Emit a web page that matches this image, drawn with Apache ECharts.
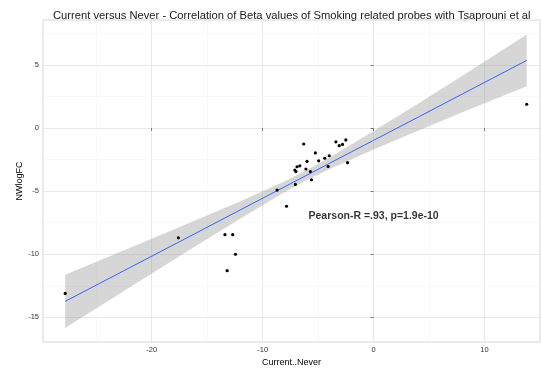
<!DOCTYPE html>
<html>
<head>
<meta charset="utf-8">
<script src="https://cdn.jsdelivr.net/npm/echarts@6/dist/echarts.min.js"></script>
<style>
  html, body { margin: 0; padding: 0; background: #fff; }
  #main { width: 542px; height: 370px; }
</style>
</head>
<body>
<div id="main"></div>
<script>
// probes: Current vs Never beta difference (x) against NWlogFC (y)
var probeX = [-27.8, -17.6, -13.4, -12.7, -12.45, -13.2, -6.3, -3.4, -2.5, -3.1,
              -2.8, -5.25, -4.0, -4.4, -6.0, -4.95, -6.65, -6.9, -7.1, -7.0,
              -6.1, -5.7, -4.1, -2.35, -7.05, -5.6, -8.7, -7.85, 13.8];
var probeY = [-13.1, -8.7, -8.45, -8.45, -10.0, -11.3, -1.27, -1.1, -0.95, -1.4,
              -1.3, -1.98, -2.2, -2.4, -2.65, -2.6, -3.0, -3.07, -3.33, -3.45,
              -3.25, -3.45, -3.05, -2.75, -4.47, -4.1, -4.92, -6.2, 1.88];

// fitted line with its confidence band
var fitX     = [-27.8, -22, -17, -12, -8, -6, -4, 0, 4, 8, 13.8];
var fitY     = [-13.73, -11.07, -8.78, -6.48, -4.65, -3.73, -2.81, -0.98, 0.85, 2.69, 5.35];
var fitLower = [-15.84, -12.64, -9.89, -7.16, -5.08, -4.13, -3.27, -1.71, -0.22, 1.25, 3.30];
var fitUpper = [-11.62, -9.50, -7.67, -5.80, -4.22, -3.33, -2.35, -0.25, 1.92, 4.13, 7.40];

var xTicks = [-20, -10, 0, 10];
var xMinor = [-25, -15, -5, 5];
var yTicks = [-15, -10, -5, 0, 5];
var yMinor = [-12.5, -7.5, -2.5, 2.5, 7.5];

var pearsonText = 'Pearson-R =.93, p=1.9e-10';
var pearsonAt = [0, -7];

var chart = echarts.init(document.getElementById('main'));

function gridLines(){
    var lines = [];
    xTicks.forEach(function(v){ lines.push({xAxis: v, lineStyle: {color: '#e8e8e8', width: 1, type: 'solid'}}); });
    xMinor.forEach(function(v){ lines.push({xAxis: v, lineStyle: {color: '#f3f3f3', width: 0.6, type: 'solid'}}); });
    yTicks.forEach(function(v){ lines.push({yAxis: v, lineStyle: {color: '#e8e8e8', width: 1, type: 'solid'}}); });
    yMinor.forEach(function(v){ lines.push({yAxis: v, lineStyle: {color: '#f3f3f3', width: 0.6, type: 'solid'}}); });
    return lines;
}

var points = probeX.map(function(x, i){ return [x, probeY[i]]; });
var fitLine = fitX.map(function(x, i){ return [x, fitY[i]]; });

var opts = {
    animation: false,
    textStyle: { fontFamily: 'Liberation Sans, Arial, sans-serif' },
    title: {
        text: 'Current versus Never - Correlation of Beta values of Smoking related probes with Tsaprouni et al',
        left: 48,
        top: 5,
        textStyle: { fontSize: 11.2, fontWeight: 'normal', color: '#1a1a1a' }
    },
    grid: {
        left: 43,
        right: 2,
        top: 20,
        bottom: 28,
        show: true,
        borderColor: '#d6d6d6',
        borderWidth: 1,
        outerBoundsMode: 'none'
    },
    xAxis: {
        type: 'value',
        min: -29.8,
        max: 15,
        name: 'Current..Never',
        nameLocation: 'middle',
        nameGap: 16,
        nameMoveOverlap: false,
        nameTextStyle: { fontSize: 9, color: '#000' },
        axisLine: { show: false },
        axisTick: { show: true, length: 3, customValues: xTicks, lineStyle: { color: '#777' } },
        axisLabel: { customValues: xTicks, fontSize: 7.5, color: '#333', margin: 4 },
        splitLine: { show: false }
    },
    yAxis: {
        type: 'value',
        min: -16.95,
        max: 8.55,
        name: 'NWlogFC',
        nameLocation: 'middle',
        nameGap: 19,
        nameMoveOverlap: false,
        nameTextStyle: { fontSize: 9, color: '#000' },
        axisLine: { show: false },
        axisTick: { show: true, length: 3, customValues: yTicks, lineStyle: { color: '#777' } },
        axisLabel: { customValues: yTicks, fontSize: 7.5, color: '#333', margin: 4 },
        splitLine: { show: false }
    },
    series: [
        {
            // background grid lines
            type: 'line',
            data: [],
            silent: true,
            z: 0,
            markLine: {
                silent: true,
                z: 0,
                symbol: ['none', 'none'],
                label: { show: false },
                animation: false,
                data: gridLines()
            }
        },
        {
            type: 'custom',
            z: 1,
            silent: true,
            data: [[fitX[0], fitLower[0]]],
            renderItem: function(params, api){
                var pts = [];
                for (var i = 0; i < fitX.length; i++) {
                    pts.push(api.coord([fitX[i], fitUpper[i]]));
                }
                for (var j = fitX.length - 1; j >= 0; j--) {
                    pts.push(api.coord([fitX[j], fitLower[j]]));
                }
                return {
                    type: 'polygon',
                    shape: { points: pts },
                    style: { fill: 'rgba(153,153,153,0.4)', stroke: 'none' }
                };
            }
        },
        {
            type: 'line',
            z: 2,
            data: fitLine,
            showSymbol: false,
            silent: true,
            lineStyle: { color: '#3366FF', width: 1 }
        },
        {
            type: 'scatter',
            z: 3,
            data: points,
            symbol: 'circle',
            symbolSize: 3.2,
            itemStyle: { color: '#000', borderWidth: 0, opacity: 1 }
        },
        {
            // annotation placed in data coordinates
            type: 'scatter',
            z: 4,
            data: [pearsonAt],
            symbolSize: 0,
            silent: true,
            label: {
                show: true,
                position: 'inside',
                formatter: pearsonText,
                fontSize: 10.5,
                fontWeight: 'bold',
                color: '#000'
            }
        }
    ]
};

chart.setOption(opts);
</script>
</body>
</html>
